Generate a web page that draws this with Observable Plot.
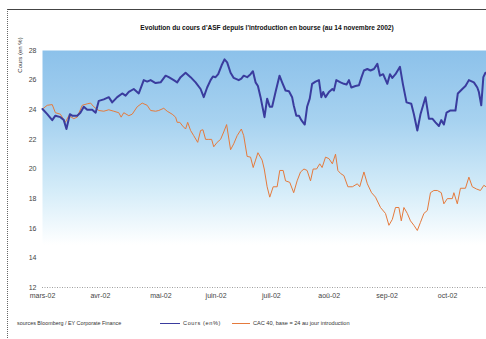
<!DOCTYPE html>
<html>
<head>
<meta charset="utf-8">
<script src="https://cdn.jsdelivr.net/npm/d3@7"></script>
<script src="https://cdn.jsdelivr.net/npm/@observablehq/plot@0.6"></script>
<style>
  html, body { margin: 0; padding: 0; background: #fff; }
  #wrap { position: relative; width: 486px; height: 339px; overflow: hidden; font-family: "Liberation Sans", Arial, sans-serif; color: #222; }
  #frame { position: absolute; left: 7px; top: 9px; width: 600px; height: 340px; border-top: 1px solid #444; border-left: 1px dotted #666; }
  #title { position: absolute; left: 117px; width: 300px; top: 24px; text-align: center; font-size: 6.6px; font-weight: bold; color: #111; white-space: nowrap; }
  #ylab { position: absolute; left: 20px; top: 55px; font-size: 6px; color: #333; white-space: nowrap; transform: translate(-50%, -50%) rotate(-90deg); }
  #chart { position: absolute; left: 0; top: 40px; }
  #foot { position: absolute; top: 320px; left: 17px; font-size: 5.4px; color: #333; white-space: nowrap; }
  .lg { position: absolute; top: 320px; font-size: 5.6px; color: #333; white-space: nowrap; }
  .sw { position: absolute; top: 323px; height: 0; }
</style>
</head>
<body>
<div id="wrap">
  <div id="frame"></div>
  <div id="title">Evolution du cours d'ASF depuis l'introduction en bourse (au 14 novembre 2002)</div>
  <div id="ylab">Cours (en %)</div>
  <div id="chart"></div>
  <div id="foot">sources Bloomberg / EY Corporate Finance</div>
</div>
<script>
// Jours de bourse depuis l'introduction (estimés) et valeurs
const coursJours = [0,1.8,3.7,4.9,6.8,8.1,9.1,10.4,11.3,13.2,14.4,15.7,17,18.9,20.2,21.4,23.3,25.2,26.5,28.4,30.3,31.6,32.8,34.7,36.6,38.5,39.8,41.1,43,44.9,46.8,48,49.9,51.2,52.5,54.4,56.3,58.2,60.1,61.3,62.6,63.9,64.8,65.8,66.8,68.1,69.2,70.2,71.5,72.7,74.6,75.6,76.5,77.8,79.1,80,81,81.9,82.9,84.4,85.4,86.4,87.3,88.6,90.1,91.1,92.4,93.7,94.9,95.5,96.5,97.5,98.4,99.7,100.6,101.6,102.5,103.8,105.1,106,106.7,107.6,108.9,110.2,110.8,111.7,113.3,114.6,115.6,116.5,117.4,119,120.3,121.3,122.2,123.5,124.7,126,127.3,128.3,129.5,131.1,132.1,133,134.2,135.9,137,138.4,140.2,141.2,142.5,143.7,145.6,146.9,148.2,149.4,150.7,151.6,152.6,153.6,155.1,157,157.9,159.6,160.8,162.1,164,165.3,165.9,166.8,167.6,168.4];
const coursValeurs = [24.05,23.7,23.3,23.6,23.5,23.3,22.7,23.7,23.6,23.6,23.8,24.2,24.0,24.0,23.8,24.6,24.7,24.85,24.5,24.85,25.1,24.95,25.2,25.4,25.1,26.0,25.9,26.0,25.8,25.85,26.3,26.2,26.0,25.85,26.2,26.5,26.2,25.85,25.4,24.85,25.5,26.0,26.25,26.2,26.4,27.0,27.4,27.2,26.5,26.15,26.0,26.1,26.3,26.2,26.4,26.6,25.85,25.6,24.85,23.5,24.75,24.2,24.2,25.2,26.3,25.85,25.3,25.25,24.85,24.3,23.6,23.6,23.3,23.0,24.2,24.75,25.75,25.9,26.0,24.85,25.2,24.85,25.2,25.4,25.3,26.0,25.85,25.75,25.7,26.0,25.5,25.6,25.65,26.2,26.65,26.75,26.65,26.75,27.1,26.3,26.4,25.75,26.4,26.15,26.4,26.9,25.75,24.5,24.4,23.7,22.6,23.7,24.85,23.4,23.4,23.15,22.9,23.3,23.0,23.8,23.95,23.95,25.1,25.4,25.6,26.0,25.85,25.5,25.2,24.3,26.2,26.5];

const cacJours = [0,1.8,3.7,4.9,6.8,8.7,10,11.9,13.2,15.1,17,18.3,19.5,21.4,23.3,25.2,27.1,29,29.9,30.9,32.8,34.1,36,37.9,39.8,41.1,43,44.2,46.1,47.4,49.3,50.6,51.2,52.2,53.3,54.4,55.2,56.3,57.5,59,60.1,61,62,63.2,64.3,65.1,66.4,67.7,68.9,70,71.5,72.7,74,75.6,76.5,77.8,79.1,80.1,81,81.9,83.5,84.3,85.4,86.4,87.7,89.2,90.2,91.5,92.4,94,95.5,96.8,98.1,99.4,100.6,101.9,102.9,104.2,105.4,106.3,107.6,108.9,110.2,111.4,112.3,113.3,114.6,116.1,117.8,119.7,120.6,122.2,123.5,125.1,126.6,128.5,130.4,131.7,133,134.2,135.5,136.4,137.4,138.7,139.9,141.2,142.5,143.7,145,146.3,147.5,148.8,150.1,151.6,152.6,153.9,155.8,156.4,157.7,158.9,160.8,162.1,163.4,165,166.5,167.8,168.6];
const cacValeurs = [24.05,24.3,24.35,23.8,23.7,23.15,23.6,23.4,23.5,24.3,24.4,24.45,24.2,23.95,23.9,24.0,23.9,23.8,23.5,23.8,23.6,23.7,24.2,24.45,24.3,23.95,23.9,23.95,24.1,23.9,23.7,23.5,23.15,23.15,22.9,22.7,23.15,22.6,22.25,21.8,22.6,22.65,22.0,22.0,22.0,21.5,21.8,22.0,22.5,23.0,21.3,21.7,22.25,22.7,22.25,20.85,20.8,20.1,20.6,21.1,20.6,20.0,18.8,18.1,18.8,18.8,19.9,19.9,19.2,19.1,18.4,19.2,19.8,20.0,19.9,19.2,20.0,20.0,20.35,20.1,20.8,20.7,20.35,21.0,19.9,19.7,19.55,18.8,18.8,19.0,18.8,19.8,19.0,18.4,18.1,17.4,17.0,16.2,16.6,17.4,17.4,16.5,17.4,17.0,16.5,16.2,15.85,16.4,17.0,17.2,18.4,18.55,18.55,18.4,17.65,18.0,18.0,18.4,17.65,18.7,18.7,19.45,18.8,18.65,18.55,18.9,18.8];

const moisJours = [0, 22, 45, 66, 87, 109, 131, 154];
const moisLabels = ["mars-02", "avr-02", "mai-02", "juin-02", "juil-02", "aoû-02", "sep-02", "oct-02"];
const yTicks = [12, 14, 16, 18, 20, 22, 24, 26, 28];
const series = ["Cours (en%)", "CAC 40, base = 24 au jour introduction"];
const couleurs = ["#3a3c9e", "#e57a3c"];

const cours = coursJours.map((j, i) => ({jour: j, valeur: coursValeurs[i]}));
const cac = cacJours.map((j, i) => ({jour: j, valeur: cacValeurs[i]}));

const chart = Plot.plot({
  width: 486,
  height: 270,
  marginLeft: 42,
  marginRight: 0,
  marginTop: 10,
  marginBottom: 23,
  style: {fontFamily: "Liberation Sans, Arial, sans-serif", fontSize: "7px", color: "#444", background: "transparent"},
  x: {domain: [0, 168.8], axis: null},
  y: {domain: [12, 28], axis: null},
  marks: [
    Plot.frame({fill: "url(#fond)", stroke: null}),
    Plot.ruleY([12], {stroke: "#888", strokeDasharray: "1,1.5", strokeWidth: 0.8}),
    Plot.axisY({ticks: yTicks, tickSize: 0, tickPadding: 6, label: null, fill: "#444"}),
    Plot.axisX({ticks: moisJours, tickFormat: (d) => moisLabels[moisJours.indexOf(d)], tickSize: 0, tickPadding: 6, label: null, fill: "#444"}),
    Plot.line(cac, {x: "jour", y: "valeur", stroke: couleurs[1], strokeWidth: 1}),
    Plot.line(cours, {x: "jour", y: "valeur", stroke: couleurs[0], strokeWidth: 2})
  ]
});

const svg = d3.select(chart);
const defs = svg.insert("defs", ":first-child");
const g = defs.append("linearGradient").attr("id", "fond").attr("x1", 0).attr("y1", 0).attr("x2", 0).attr("y2", 1);
g.append("stop").attr("offset", "0").attr("stop-color", "#8cc1ea");
g.append("stop").attr("offset", "0.3").attr("stop-color", "#a7d2f0");
g.append("stop").attr("offset", "0.6").attr("stop-color", "#d6edf9");
g.append("stop").attr("offset", "0.82").attr("stop-color", "#ffffff");
g.append("stop").attr("offset", "1").attr("stop-color", "#ffffff");

document.getElementById("chart").appendChild(chart);

// Légende
const wrap = document.getElementById("wrap");
const legendPos = [{sw: 160, w: 20, tx: 183}, {sw: 232, w: 18, tx: 253}];
series.forEach((s, i) => {
  const sw = document.createElement("div");
  sw.className = "sw";
  sw.style.left = legendPos[i].sw + "px";
  sw.style.width = legendPos[i].w + "px";
  sw.style.borderTop = "1px solid " + couleurs[i];
  const t = document.createElement("div");
  t.className = "lg";
  t.style.left = legendPos[i].tx + "px";
  t.textContent = s;
  if (i === 0) t.style.letterSpacing = "0.6px";
  wrap.appendChild(sw);
  wrap.appendChild(t);
});
</script>
</body>
</html>
